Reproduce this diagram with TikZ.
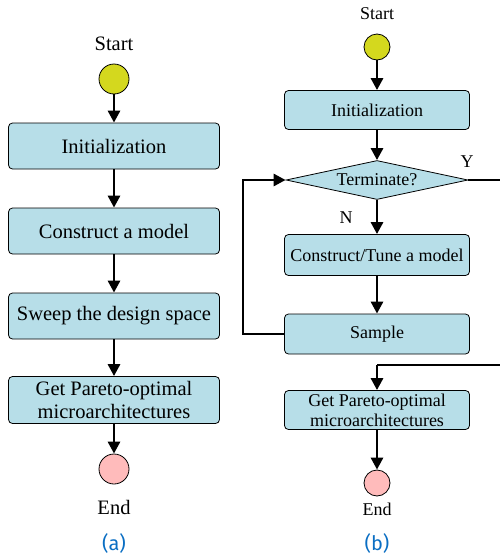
\documentclass[tikz,border=0pt]{standalone}
\usepackage{fontspec}
\setmainfont{Liberation Serif}
\newfontfamily\capfont{Fira Sans}
\usetikzlibrary{positioning,shapes.geometric,arrows.meta}
\definecolor{boxfill}{RGB}{183,222,232}
\definecolor{startfill}{RGB}{212,216,30}
\definecolor{endfill}{RGB}{255,187,187}
\definecolor{capblue}{RGB}{10,110,195}
\tikzset{
  flowbox/.style={draw, rounded corners=4pt, fill=boxfill, line width=0.8pt,
    inner sep=1pt, align=center},
  bigbox/.style={flowbox, minimum width=211pt, minimum height=46pt,
    font=\fontsize{20.5}{22.5}\selectfont},
  smallbox/.style={flowbox, minimum width=185pt, minimum height=40pt,
    font=\fontsize{18}{20.5}\selectfont},
  startdot/.style={circle, draw, line width=0.8pt, fill=startfill, inner sep=0pt},
  enddot/.style={circle, draw, line width=0.8pt, fill=endfill, inner sep=0pt},
  caption/.style={inner sep=0pt, text=capblue, font=\capfont\fontsize{20}{22}\selectfont},
  flow/.style={line width=2.9pt, -{Triangle[length=12pt,width=12pt]}},
  plain/.style={line width=2.9pt}
}
\begin{document}
\begin{tikzpicture}[x=1pt, y=-1pt]
            \useasboundingbox (0,0) rectangle (500,557);

            % (a)
            \node (sa) at (114,44) {\fontsize{20.5}{22}\selectfont Start};
            \node (ca) [startdot, minimum size=30pt] at (114,79) {};
            \node (ia) [bigbox] at (114,146) {Initialization};
            \node (ma) [bigbox] at (114,231) {Construct a model};
            \node (wa) [bigbox] at (114,316) {Sweep the design space};
            \node (pa) [bigbox, minimum height=47pt] at (114,400) {Get Pareto-optimal\\microarchitectures};
            \node (ea) [enddot, minimum size=30pt] at (114,469) {};
            \node (ta) at (114,507) {\fontsize{20.5}{22}\selectfont End};
            \node (la) [caption] at (114,543) {(a)};

            \draw [flow] (ca) -- (ia);
            \draw [flow] (ia) -- (ma);
            \draw [flow] (ma) -- (wa);
            \draw [flow] (wa) -- (pa);
            \draw [flow] (pa) -- (ea);

            % (b)
            \node (sb) at (377,14) {\fontsize{18}{20}\selectfont Start};
            \node (cb) [startdot, minimum size=26pt] at (377,47) {};
            \node (ib) [smallbox, minimum height=39pt] at (377,110) {Initialization};
            \node (tb) [diamond, draw, fill=boxfill, line width=0.8pt, inner sep=0pt,
                        aspect=4.67, minimum width=182pt, minimum height=39pt,
                        font=\fontsize{18}{20}\selectfont] at (377,180) {Terminate?};
            \node (mb) [smallbox, minimum height=41pt] at (377,255) {Construct/Tune a model};
            \node (xb) [smallbox] at (377,334) {Sample};
            \node (pb) [smallbox, minimum height=39pt, font=\fontsize{18}{20}\selectfont] at (377,410) {Get Pareto-optimal\\microarchitectures};
            \node (eb) [enddot, minimum size=26pt] at (377,483) {};
            \node (tt) at (377,509) {\fontsize{18}{20}\selectfont End};
            \node (lb) [caption] at (377,543) {(b)};

            \node (yb) at (467,162) {\fontsize{18}{20}\selectfont Y};
            \node (nb) at (346,218) {\fontsize{18}{20}\selectfont N};

            \coordinate (back) at (243,334);
            \coordinate (exit) at (502,180);
            \coordinate (down) at (502,365);
            \coordinate (turn) at (377,365);

            \draw [flow] (cb) -- (ib);
            \draw [flow] (ib) -- (tb);
            \draw [flow] (tb) -- (mb);
            \draw [flow] (mb) -- (xb);
            \draw [flow] (xb.west) -- (back) |- (tb.west);
            \draw [plain] (tb.east) -- (exit) -- (down) -- (turn);
            \draw [flow] (turn) -- (pb);
            \draw [flow] (pb) -- (eb);

        \end{tikzpicture}
\end{document}
